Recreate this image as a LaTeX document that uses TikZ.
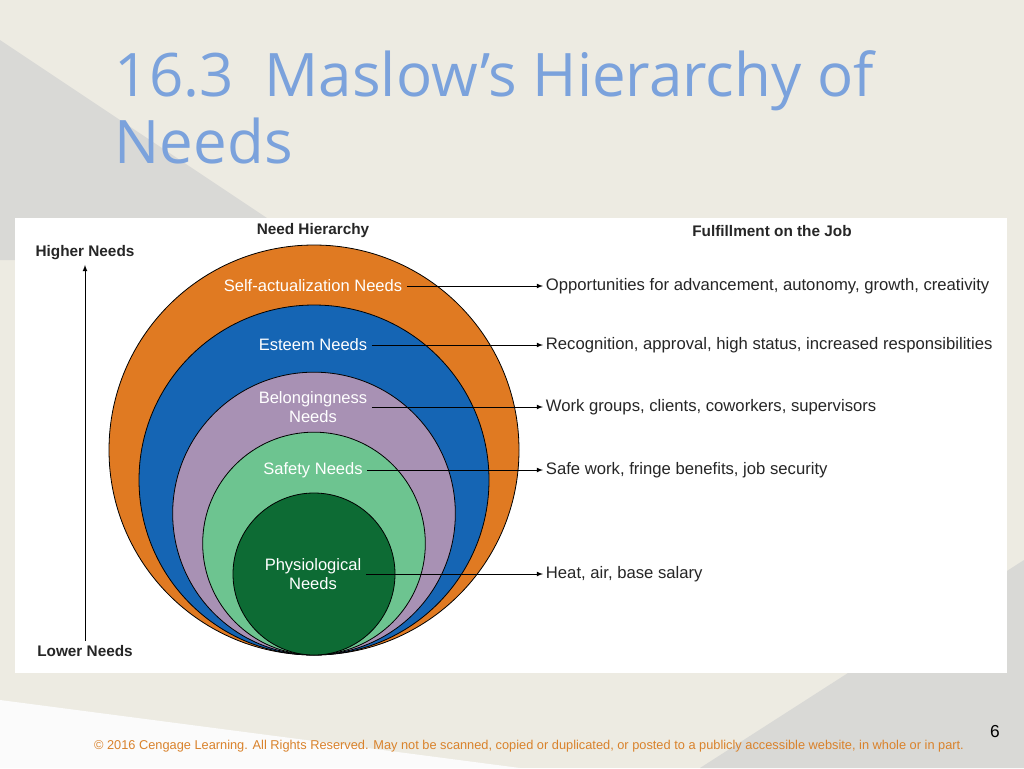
\documentclass[tikz,border=0pt]{standalone}
\usepackage{fontspec}
\setmainfont{Liberation Sans}
\newfontfamily\titlefont{Open Sans}
\usetikzlibrary{positioning}
\definecolor{bgpaper}{HTML}{EDEBE2}
\definecolor{bgshade}{HTML}{D9D9D6}
\definecolor{titleblue}{HTML}{7BA2DC}
\definecolor{ringorange}{HTML}{E07A22}
\definecolor{ringblue}{HTML}{1565B4}
\definecolor{ringpurple}{HTML}{A891B4}
\definecolor{ringlight}{HTML}{6DC490}
\definecolor{ringdark}{HTML}{0D6B34}
\definecolor{footorange}{HTML}{D9822B}
\tikzset{
  ring/.style={circle, draw=black, line width=0.6pt, inner sep=0pt},
  inlabel/.style={text=white, font=\fontsize{12.4}{14}\selectfont, align=center},
  joblabel/.style={anchor=west, inner sep=2pt, font=\fontsize{12.5}{14}\selectfont, text=black!85},
  header/.style={font=\bfseries\fontsize{11.5}{13}\selectfont, text=black!85},
  pointer/.style={->, >=latex, line width=0.6pt}
}
\begin{document}
\begin{tikzpicture}[x=0.75pt, y=-0.75pt]
	\useasboundingbox (0,0) rectangle (1024,768);
	\fill[bgpaper] (0,0) rectangle (1024,768);
	\fill[bgshade] (0,40) -- (330,260) -- (0,260) -- cycle;
	\fill[bgshade] (700,768) -- (1024,560) -- (1024,768) -- cycle;
	\fill[white!90!bgshade] (0,700) -- (520,768) -- (0,768) -- cycle;

	\node[anchor=north west, align=left, text=titleblue, font=\titlefont\fontsize{45}{50}\selectfont](title) at (110,46){16.3\ \ Maslow’s Hierarchy of\\Needs};

	\fill[white] (15,218) rectangle (1007,673);

	% rings
	\node[ring, fill=ringorange, minimum size=307.5pt](selfring) at (314,450){};
	\node[ring, fill=ringblue, minimum size=262.5pt](esteemring) at (314,480){};
	\node[ring, fill=ringpurple, minimum size=212pt](belongring) at (314,513.5){};
	\node[ring, fill=ringlight, minimum size=167pt](safetyring) at (314,543.5){};
	\node[ring, fill=ringdark, minimum size=121.5pt](physring) at (314,574){};

	\node[inlabel](selflabel) at (313,286){Self-actualization Needs};
	\node[inlabel](esteemlabel) at (313,345){Esteem Needs};
	\node[inlabel](belonglabel) at (313,407){Belongingness\\Needs};
	\node[inlabel](safetylabel) at (313,470){Safety Needs};
	\node[inlabel](physlabel) at (313,574){Physiological\\Needs};

	\node[joblabel](selfjob) at (543,286){Opportunities for advancement, autonomy, growth, creativity};
	\node[joblabel](esteemjob) at (543,345){Recognition, approval, high status, increased responsibilities};
	\node[joblabel](belongjob) at (543,407){Work groups, clients, coworkers, supervisors};
	\node[joblabel](safetyjob) at (543,470){Safe work, fringe benefits, job security};
	\node[joblabel](physjob) at (543,574){Heat, air, base salary};

	\draw[pointer] (selflabel.east) -- (selfjob.west);
	\draw[pointer] (esteemlabel.east) -- (esteemjob.west);
	\draw[pointer] (belonglabel.east) -- (belongjob.west);
	\draw[pointer] (safetylabel.east) -- (safetyjob.west);
	\draw[pointer] (physlabel.east) -- (physjob.west);

	\node[header](needhead) at (313,231){Need Hierarchy};
	\node[header](jobhead) at (772,231){Fulfillment on the Job};
	\node[header](higher) at (85,253){Higher Needs};
	\node[header](lower) at (85,651){Lower Needs};
	\draw[pointer] (lower.north) -- (higher.south);

	\node[font=\fontsize{13}{15}\selectfont](pagenum) at (995,732){6};
	\node[text=footorange, font=\fontsize{9.6}{11}\selectfont](footer) at (529,746){© 2016 Cengage Learning. All Rights Reserved. May not be scanned, copied or duplicated, or posted to a publicly accessible website, in whole or in part.};
\end{tikzpicture}
\end{document}
